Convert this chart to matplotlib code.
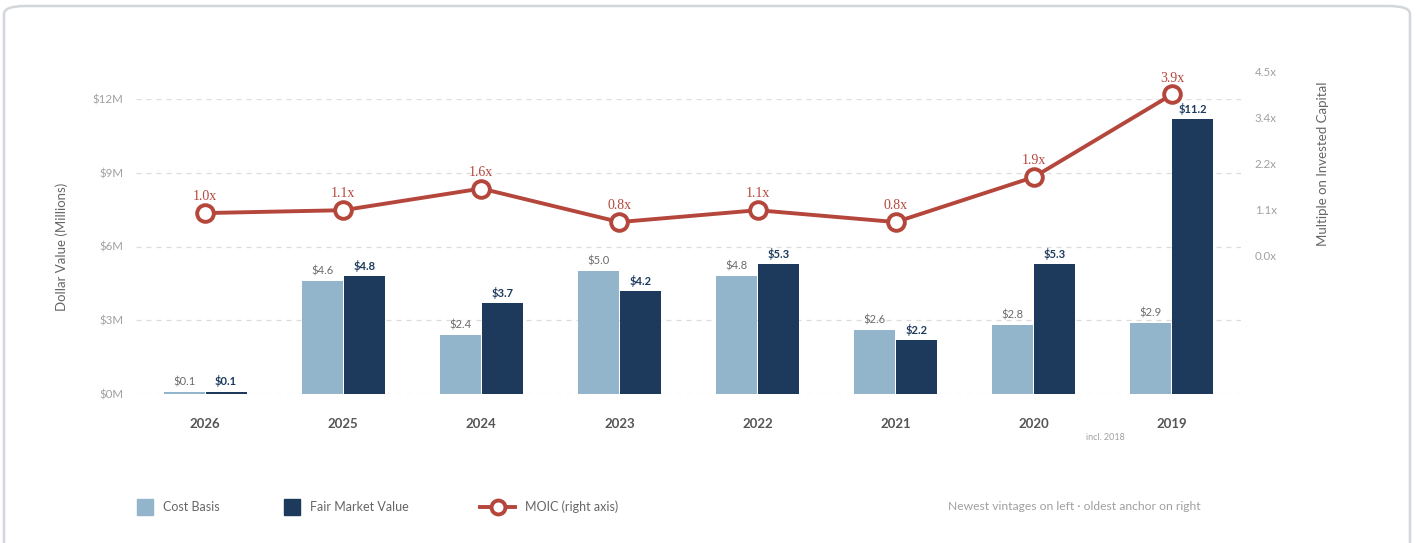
import matplotlib.pyplot as plt
import numpy as np
from matplotlib.patches import FancyBboxPatch, Rectangle
from matplotlib.lines import Line2D

plt.rcParams['font.family'] = ['Lato', 'DejaVu Sans']

# data (newest vintage on the left)
vintages = ["2026", "2025", "2024", "2023", "2022", "2021", "2020", "2019"]
cost_basis = [0.1, 4.6, 2.4, 5.0, 4.8, 2.6, 2.8, 2.9]
fair_value = [0.1, 4.8, 3.7, 4.2, 5.3, 2.2, 5.3, 11.2]
moic = [1.05, 1.12, 1.65, 0.83, 1.12, 0.83, 1.93, 3.95]
moic_labels = ["1.0x", "1.1x", "1.6x", "0.8x", "1.1x", "0.8x", "1.9x", "3.9x"]
left_ticks = [0, 3, 6, 9, 12]
right_ticks = np.linspace(0, 4.5, 5)

cost_color = "#93b5cb"
fmv_color = "#1d3a5c"
moic_color = "#b5463b"
tick_gray = "#a0a0a0"

W, H = 1416, 543
fig = plt.figure(figsize=(W / 100, H / 100), dpi=100)

# card border
fig.patches.append(FancyBboxPatch((4 / W, -0.05), 1406 / W, 1 - 6 / H + 0.05,
                                  boxstyle="round,pad=0,rounding_size=0.015",
                                  transform=fig.transFigure, fill=False,
                                  edgecolor="#d3d6db", linewidth=1.8))

ax = fig.add_axes([136 / W, (H - 394) / H, 1105 / W, 295 / H])
ax2 = fig.add_axes([136 / W, (H - 256) / H, 1105 / W, 184 / H], sharex=ax)
ax2.patch.set_alpha(0)

x = np.arange(len(vintages))
bw = 0.297
off = 0.152

ax.bar(x - off, cost_basis, bw, color=cost_color, zorder=2)
ax.bar(x + off, fair_value, bw, color=fmv_color, zorder=2)

for xi, v in zip(x, cost_basis):
    ax.annotate(f"${v:.1f}", (xi - off, v), xytext=(0, 3), textcoords="offset points",
                ha="center", va="bottom", fontsize=8, color="#6b6b6b")
for xi, v in zip(x, fair_value):
    ax.annotate(f"${v:.1f}", (xi + off, v), xytext=(0, 3), textcoords="offset points",
                ha="center", va="bottom", fontsize=8, color=fmv_color, fontweight="bold")

ax.set_xlim(-0.5, len(vintages) - 0.5)
ax.set_ylim(0, 12)
ax.set_yticks(left_ticks)
ax.set_yticklabels([f"${t}M" for t in left_ticks])
ax.set_xticks(x)
ax.set_xticklabels(vintages, fontweight="bold", color="#555555", fontsize=9.5)
ax.tick_params(axis="x", length=0, pad=17)
ax.tick_params(axis="y", length=0, pad=9, labelcolor=tick_gray, labelsize=8.3)
ax.grid(axis="y", color="#dcdcdc", linestyle=(0, (4, 4)), linewidth=0.9, zorder=0)
for s in ax.spines.values():
    s.set_visible(False)
ax.set_ylabel("Dollar Value (Millions)", fontsize=9.5, color="#666666", labelpad=18)

ax.text(6.52, -0.149, "incl. 2018", transform=ax.get_xaxis_transform(),
        ha="center", va="center", fontsize=6.5, color=tick_gray)

# MOIC line on its own scale
ax2.plot(x, moic, color=moic_color, linewidth=2.8, marker="o", markersize=12,
         markerfacecolor="white", markeredgecolor=moic_color, markeredgewidth=2.8,
         zorder=3, clip_on=False)
for xi, v, lab in zip(x, moic, moic_labels):
    ax2.annotate(lab, (xi, v), xytext=(0, 7), textcoords="offset points",
                 ha="center", va="bottom", fontsize=10, color=moic_color,
                 family="Liberation Serif")
ax2.set_ylim(0, 4.5)
ax2.yaxis.tick_right()
ax2.yaxis.set_label_position("right")
ax2.set_yticks(right_ticks)
ax2.set_yticklabels([f"{t:.1f}x" for t in right_ticks])
ax2.tick_params(axis="y", length=0, pad=10, labelcolor=tick_gray, labelsize=8.3)
ax2.tick_params(axis="x", bottom=False, labelbottom=False)
for s in ax2.spines.values():
    s.set_visible(False)
ax2.set_ylabel("Multiple on Invested Capital", fontsize=9.5, color="#666666", labelpad=29)

# legend
ly = (H - 507) / H
sq = 16
fig.patches.append(Rectangle((137 / W, ly - sq / 2 / H), sq / W, sq / H,
                             transform=fig.transFigure, color=cost_color))
fig.text(163 / W, ly, "Cost Basis", ha="left", va="center", fontsize=9, color="#666666")
fig.patches.append(Rectangle((284 / W, ly - sq / 2 / H), sq / W, sq / H,
                             transform=fig.transFigure, color=fmv_color))
fig.text(310 / W, ly, "Fair Market Value", ha="left", va="center", fontsize=9, color="#666666")
fig.lines.append(Line2D([480 / W, 515 / W], [ly, ly], transform=fig.transFigure,
                        color=moic_color, linewidth=2.8))
fig.lines.append(Line2D([497.5 / W], [ly], transform=fig.transFigure, marker="o",
                        markersize=10, markerfacecolor="white", markeredgecolor=moic_color,
                        markeredgewidth=2.8))
fig.text(525 / W, ly, "MOIC (right axis)", ha="left", va="center", fontsize=9, color="#666666")
fig.text(1201 / W, ly, "Newest vintages on left \u00b7 oldest anchor on right",
         ha="right", va="center", fontsize=8.7, color=tick_gray)

fig.savefig("out.png", dpi=100)
